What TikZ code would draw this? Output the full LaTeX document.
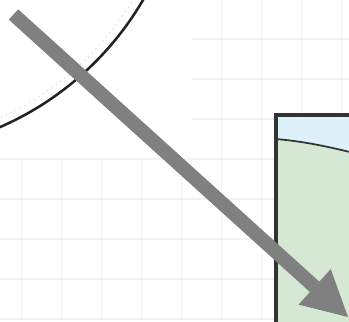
\documentclass[tikz,border=0pt]{standalone}
\usepackage{tikz}
\usetikzlibrary{arrows.meta,calc}
\definecolor{GridGray}{RGB}{242,242,242}
\definecolor{RimDark}{RGB}{34,34,34}
\definecolor{TankEdge}{RGB}{51,51,51}
\definecolor{TankSky}{RGB}{222,241,251}
\definecolor{TankFill}{RGB}{213,232,212}
\definecolor{ArrowGray}{RGB}{128,128,128}

\begin{document}
\begin{tikzpicture}[x=0.75pt, y=-0.75pt]
    \tikzstyle{gridline}=[draw=GridGray, line width=1.1pt]
    \tikzstyle{rim}=[draw=RimDark, line width=1.9pt]
    \tikzstyle{tank}=[draw=TankEdge, line width=2.5pt]
    \tikzstyle{bigarrow}=[draw=ArrowGray, line width=10.5pt,
        -{Triangle[length=33.75pt, width=36pt, line width=0pt]}]

    \useasboundingbox (0,0) rectangle (349,321);
    \clip (0,0) rectangle (349,321);

    % background grid
    \foreach \gx in {0,...,8}
        \draw[gridline] (21.7+40*\gx,0) -- (21.7+40*\gx,321);
    \foreach \gy in {0,...,7}
        \draw[gridline] (0,39+40*\gy) -- (349,39+40*\gy);
    \fill[white] (0,0) rectangle (192,158);

    % disc
    \draw[rim, fill=white] (-122.6,-155) circle[radius=307.5];
    \draw[black!10, line width=0.8pt, dash pattern=on 1pt off 3pt] (-122.6,-155) circle[radius=299];

    % tank
    \fill[TankSky] (276,115) rectangle (380,360);
    \fill[TankFill] (276,139) .. controls (310,142) and (340,149) .. (380,160) -- (380,360) -- (276,360) -- cycle;
    \draw[draw=TankEdge, line width=1.3pt] (276,139) .. controls (310,142) and (340,149) .. (380,160);
    \draw[tank] (380,115) -- (276,115) -- (276,360);

    % arrow
    \coordinate (start) at (13.5,14.5);
    \coordinate (tip) at (348,317);
    \draw[bigarrow] (start) -- (tip);
\end{tikzpicture}
\end{document}
